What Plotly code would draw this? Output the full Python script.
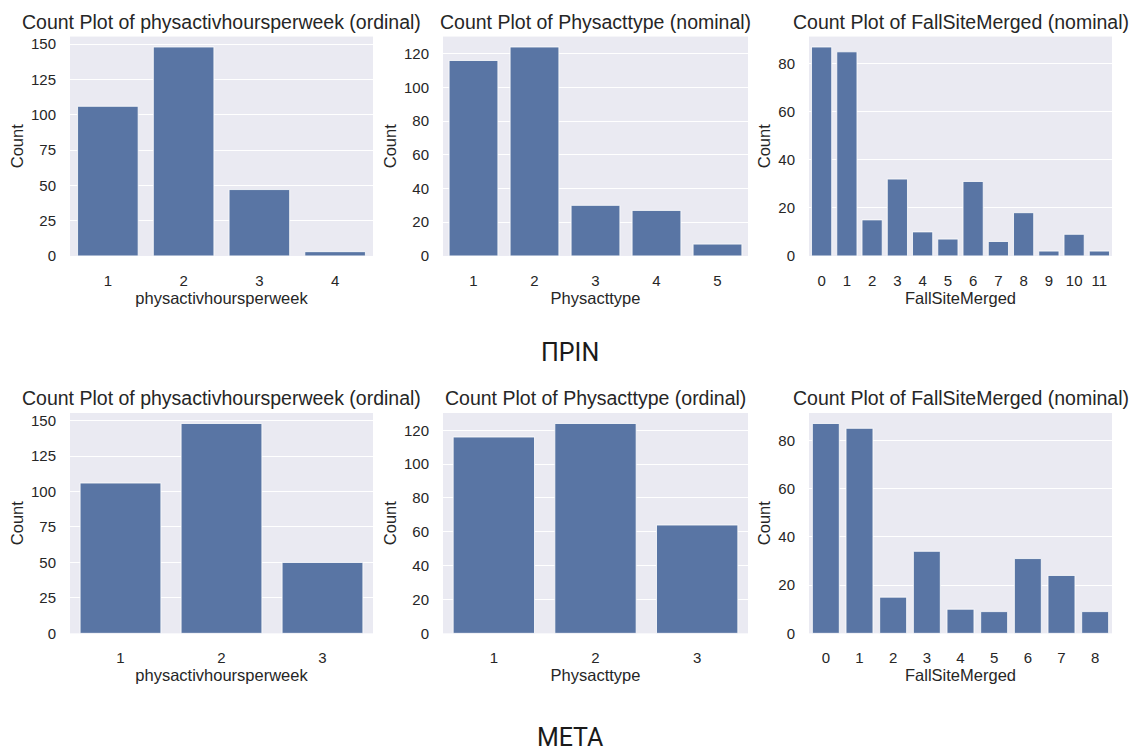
import plotly.graph_objects as go

# ---- data ----
before_hours_cats = ["1", "2", "3", "4"]
before_hours_counts = [106, 148, 47, 3]
before_type_cats = ["1", "2", "3", "4", "5"]
before_type_counts = [116, 124, 30, 27, 7]
before_site_cats = ["0", "1", "2", "3", "4", "5", "6", "7", "8", "9", "10", "11"]
before_site_counts = [87, 85, 15, 32, 10, 7, 31, 6, 18, 2, 9, 2]

after_hours_cats = ["1", "2", "3"]
after_hours_counts = [106, 148, 50]
after_type_cats = ["1", "2", "3"]
after_type_counts = [116, 124, 64]
after_site_cats = ["0", "1", "2", "3", "4", "5", "6", "7", "8"]
after_site_counts = [87, 85, 15, 34, 10, 9, 31, 24, 9]

titles = [
    "Count Plot of physactivhoursperweek (ordinal)",
    "Count Plot of Physacttype (nominal)",
    "Count Plot of FallSiteMerged (nominal)",
    "Count Plot of physactivhoursperweek (ordinal)",
    "Count Plot of Physacttype (ordinal)",
    "Count Plot of FallSiteMerged (nominal)",
]
xlabels = ["physactivhoursperweek", "Physacttype", "FallSiteMerged"] * 2
ylabel = "Count"
section_labels = ["ΠΡΙΝ", "ΜΕΤΑ"]
yticks = [
    [0, 25, 50, 75, 100, 125, 150],
    [0, 20, 40, 60, 80, 100, 120],
    [0, 20, 40, 60, 80],
    [0, 25, 50, 75, 100, 125, 150],
    [0, 20, 40, 60, 80, 100, 120],
    [0, 20, 40, 60, 80],
]

panels = [
    (before_hours_cats, before_hours_counts),
    (before_type_cats, before_type_counts),
    (before_site_cats, before_site_counts),
    (after_hours_cats, after_hours_counts),
    (after_type_cats, after_type_counts),
    (after_site_cats, after_site_counts),
]

W, H = 1136, 751
TXT = "#262626"
BAR = "#5975A4"
BG = "#EAEAF2"
FONT = "Liberation Sans, Arial, sans-serif"

# pixel boxes of plot areas (left, right, top, bottom)
col_x = [(70, 373), (443, 748), (809, 1112)]
row_y = [(36, 258), (417, 640)]

fig = go.Figure()
layout = dict(
    autosize=True,
    margin=dict(l=0, r=0, t=0, b=0),
    paper_bgcolor="white", plot_bgcolor=BG,
    showlegend=False,
    font=dict(family=FONT, color=TXT, size=15),
    bargap=0.2,
)
annotations = []

for i, (cats, counts) in enumerate(panels):
    r, c = divmod(i, 3)
    xl, xr = col_x[c]
    yt, yb = row_y[r]
    n = i + 1
    xa = "x" if n == 1 else f"x{n}"
    ya = "y" if n == 1 else f"y{n}"
    fig.add_trace(go.Bar(
        x=list(range(len(cats))), y=counts, xaxis=xa, yaxis=ya,
        marker=dict(color=BAR, line=dict(color="white", width=0.8)),
        width=0.8, hoverinfo="x+y",
    ))
    layout[f"xaxis{'' if n == 1 else n}"] = dict(
        domain=[xl / W, xr / W], anchor=ya,
        range=[-0.5, len(cats) - 0.5],
        tickmode="array", tickvals=list(range(len(cats))), ticktext=cats,
        showgrid=False, zeroline=False, showline=False,
        ticks="outside", ticklen=11, tickcolor="rgba(0,0,0,0)",
        tickfont=dict(size=15, color=TXT),
        title=dict(text=xlabels[i], font=dict(size=16.5, color=TXT), standoff=1),
        fixedrange=True,
    )
    layout[f"yaxis{'' if n == 1 else n}"] = dict(
        domain=[1 - yb / H, 1 - yt / H], anchor=xa,
        range=[0, max(counts) * 1.05],
        tickmode="array", tickvals=yticks[i],
        showgrid=True, gridcolor="white", gridwidth=1.2,
        zeroline=False, showline=False,
        ticks="outside", ticklen=10, tickcolor="rgba(0,0,0,0)",
        tickfont=dict(size=15, color=TXT),
        title=dict(text=ylabel, font=dict(size=16.5, color=TXT), standoff=3),
        fixedrange=True,
    )
    annotations.append(dict(
        text=titles[i], x=(xl + xr) / 2 / W, y=1 - (yt - 15) / H,
        xref="paper", yref="paper", xanchor="center", yanchor="middle",
        showarrow=False, font=dict(size=19.5, color=TXT, family=FONT),
    ))

for lbl, py in zip(section_labels, [356, 745]):
    annotations.append(dict(
        text=lbl, x=570 / W, y=1 - py / H, xref="paper", yref="paper",
        xanchor="center", yanchor="middle", showarrow=False,
        font=dict(size=25, color="#1a1a1a", family="Roboto, Noto Sans, sans-serif"),
    ))

layout["annotations"] = annotations
fig.update_layout(**layout)

page_fix = (
    "var d=document.getElementById('{plot_id}');"
    "var s='margin:0;padding:0;overflow:hidden;';"
    "document.documentElement.style.cssText=s;"
    "document.body.style.cssText=s;"
    "if(d){d.style.width='100vw';d.style.height='100vh';Plotly.Plots.resize(d);}"
)
fig.write_html(
    "out.html",
    config={"displayModeBar": False, "responsive": True},
    default_width="100vw",
    default_height="100vh",
    post_script=page_fix,
)
